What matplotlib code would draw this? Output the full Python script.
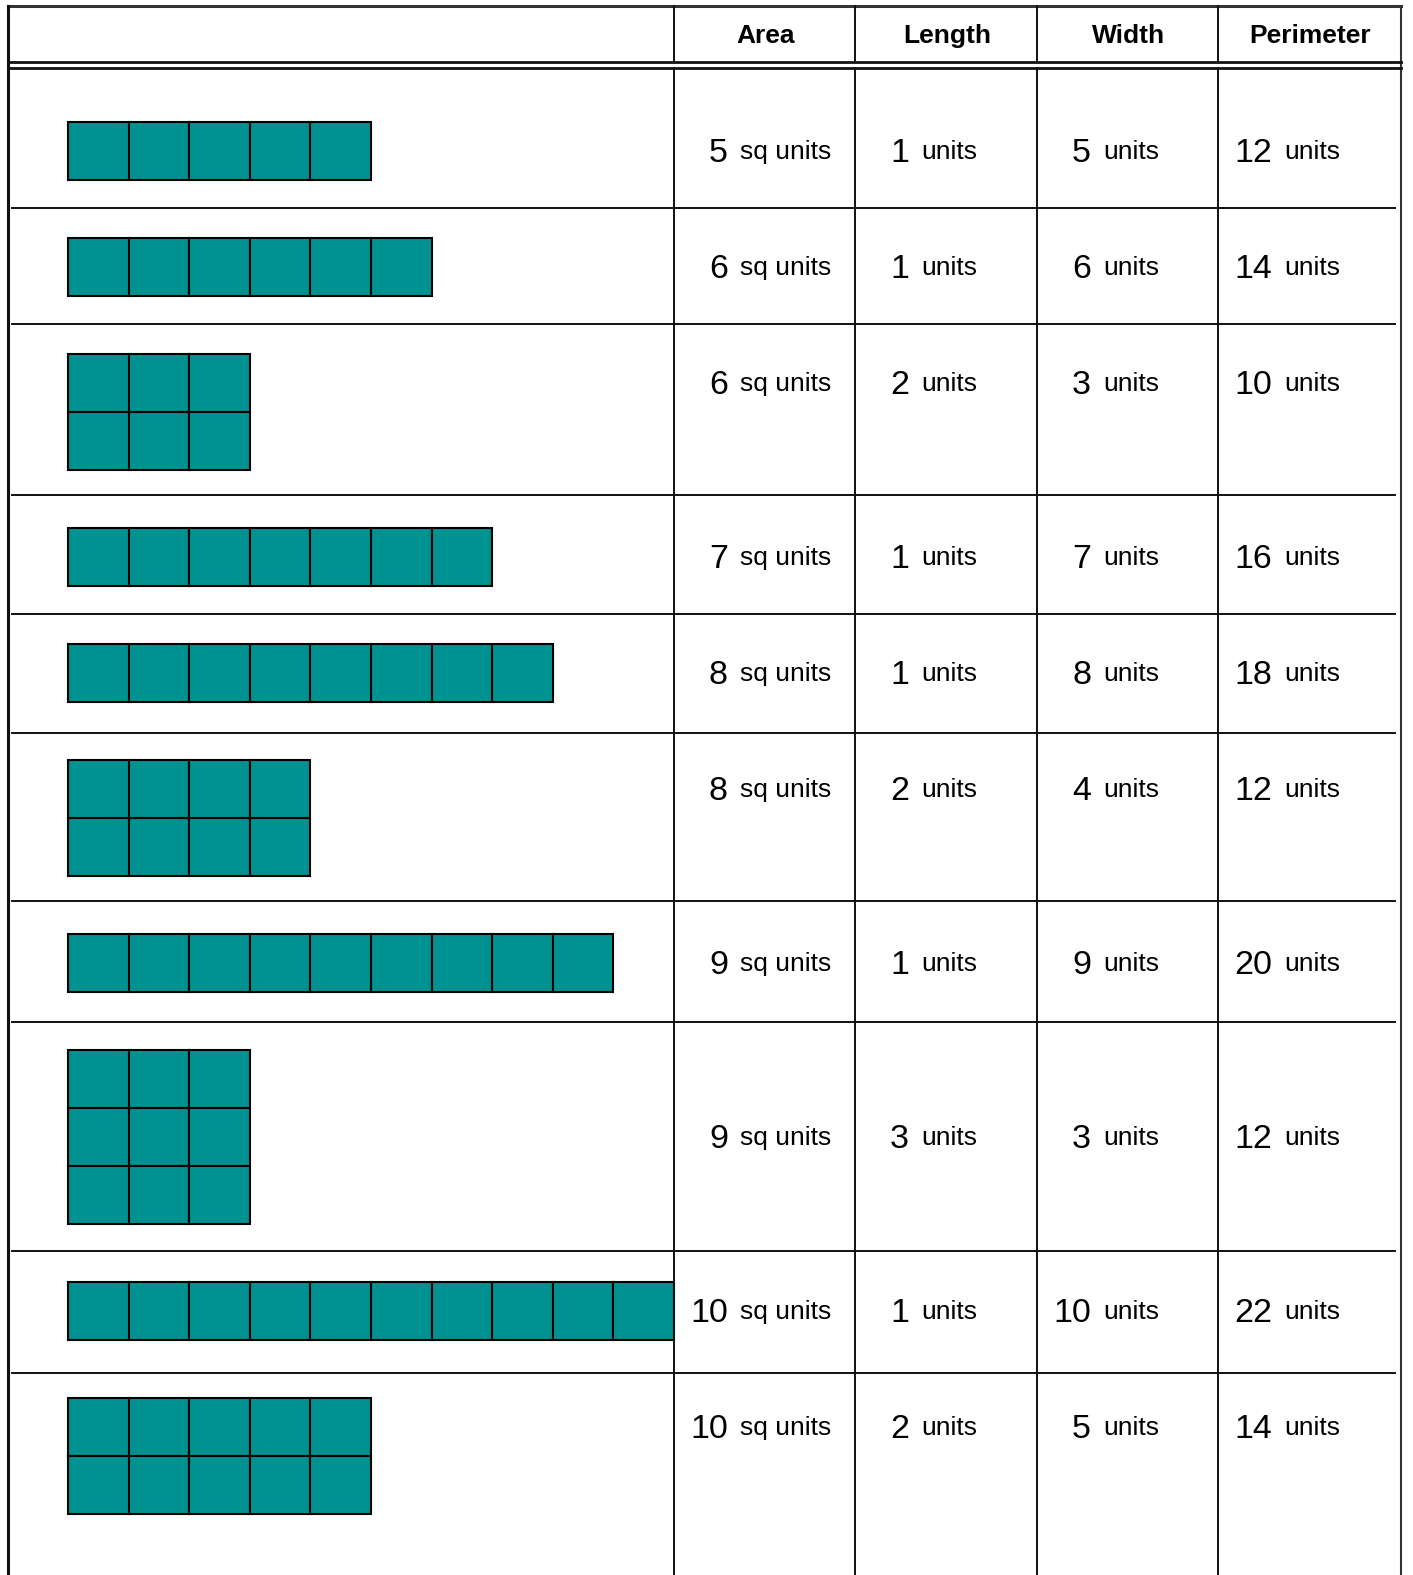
import matplotlib
matplotlib.use("Agg")
import matplotlib.pyplot as plt
import matplotlib.patches as patches

# shapes: number of square rows (length) and columns (width)
shape_rows = [1, 1, 2, 1, 1, 2, 1, 3, 1, 2]
shape_cols = [5, 6, 3, 7, 8, 4, 9, 3, 10, 5]
area = [5, 6, 6, 7, 8, 8, 9, 9, 10, 10]
length = [1, 1, 2, 1, 1, 2, 1, 3, 1, 2]
width = [5, 6, 3, 7, 8, 4, 9, 3, 10, 5]
perimeter = [12, 14, 10, 16, 18, 12, 20, 12, 22, 14]
headers = ["Area", "Length", "Width", "Perimeter"]
units = ["sq units", "units", "units", "units"]

# layout (pixels)
W, H = 1413, 1575
row_lines = [67, 208, 324, 495, 614, 733, 901, 1022, 1251, 1373]
shape_top = [122, 238, 354, 528, 644, 760, 934, 1050, 1282, 1398]
col_lines = [674, 855, 1037, 1218]
left, right, top = 8, 1401, 6
cell_w, cell_h = 60.6, 58.0
x0 = 68
teal = "#009191"
line_c = "#111111"
font = "Liberation Sans"

fig = plt.figure(figsize=(W / 100, H / 100), dpi=100)
ax = fig.add_axes([0, 0, 1, 1])
ax.set_xlim(0, W)
ax.set_ylim(H, 0)
ax.axis("off")

# borders
ax.plot([left, right], [top, top], color="#333333", lw=2.2)
ax.plot([left, left], [top, H], color=line_c, lw=2.2)
ax.plot([right, right], [top, H], color="#333333", lw=1.5)
ax.plot([left, right], [62, 62], color=line_c, lw=2.0)
ax.plot([left, right], [67.5, 67.5], color=line_c, lw=2.0)
for y in row_lines[1:]:
    ax.plot([12, 1395], [y, y], color=line_c, lw=1.4)
for x in col_lines:
    ax.plot([x, x], [top, 61], color=line_c, lw=1.4)
    ax.plot([x, x], [68, H], color=line_c, lw=1.4)

# headers
centers = [(col_lines[i] + (col_lines + [right])[i + 1]) / 2 for i in range(4)]
for cx, h in zip(centers, headers):
    ax.text(cx + 1, 36, h, ha="center", va="center", fontsize=19,
            fontweight="bold", family=font)

values = [area, length, width, perimeter]
for i in range(len(area)):
    nr, nc = shape_rows[i], shape_cols[i]
    y0 = shape_top[i]
    for r in range(nr):
        for c in range(nc):
            ax.add_patch(patches.Rectangle(
                (x0 + c * cell_w, y0 + r * cell_h), cell_w, cell_h,
                facecolor=teal, edgecolor="black", lw=1.5))
    ty = y0 + cell_h / 2 if nr < 3 else y0 + nr * cell_h / 2
    for j in range(4):
        cl = col_lines[j]
        ax.text(cl + 54, ty + 2, str(values[j][i]), ha="right", va="center",
                fontsize=24.5, family=font)
        ax.text(cl + 66, ty + 1, units[j], ha="left", va="center",
                fontsize=19, family=font)

fig.savefig("out.png", dpi=100)
